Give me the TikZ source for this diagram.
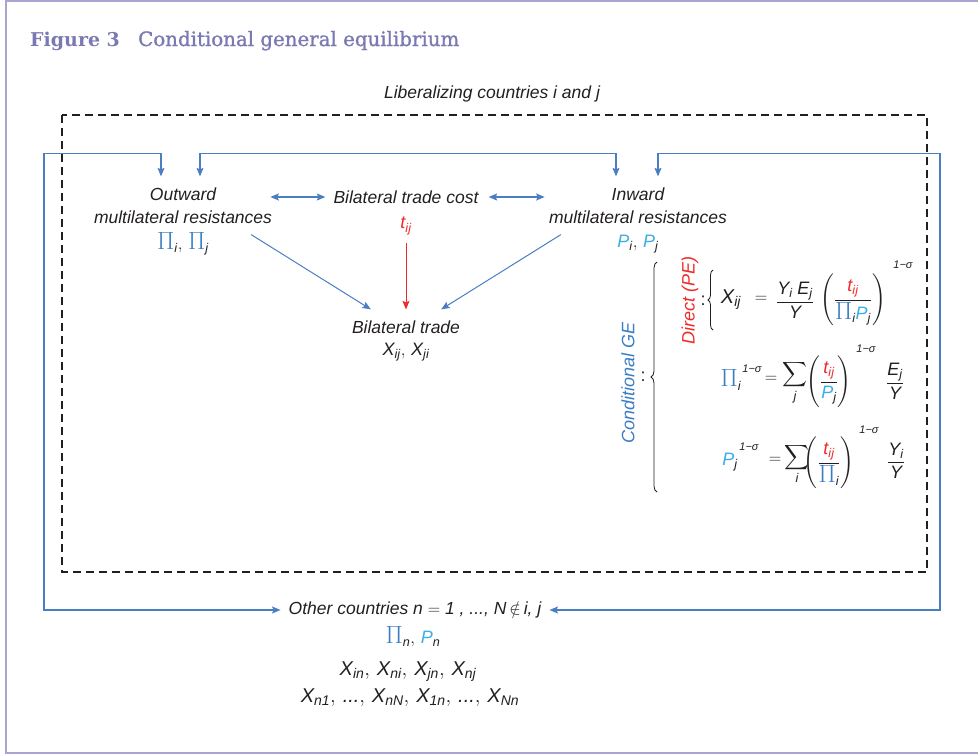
\documentclass[tikz,border=0pt]{standalone}
\usepackage{amsmath}
\usepackage{fontspec}
\setmainfont{Liberation Sans}
\newfontfamily\titlefont{DejaVu Serif}
\newfontfamily\titlefontm[FakeBold=1.2]{DejaVu Serif}
\usetikzlibrary{arrows.meta,calc,decorations.pathreplacing}
\definecolor{ink}{HTML}{231F20}
\definecolor{wireblue}{HTML}{4A7EC2}
\definecolor{piblue}{HTML}{3B7DC4}
\definecolor{pblue}{HTML}{3AAEE6}
\definecolor{tred}{HTML}{EE2A2A}
\definecolor{framec}{HTML}{A8A6D0}
\definecolor{titlec}{HTML}{7B79B2}
\newcommand{\mi}[1]{\text{\normalfont\itshape #1}}
\newcommand{\PI}{\textcolor{piblue}{\text{\fontsize{23}{23}\selectfont$\Pi$}}}
\newcommand{\PP}{\textcolor{pblue}{\mi{P}}}
\newcommand{\TT}{\textcolor{tred}{\mi{t}_{\mi{ij}}}}
\begin{document}
\begin{tikzpicture}[x=1pt,y=-1pt,
  lbl/.style={inner sep=0pt, font=\fontsize{17.5}{21}\selectfont\itshape, text=ink},
  eqn/.style={inner sep=0pt, font=\fontsize{18}{22}\selectfont, text=ink},
  big/.style={inner sep=0pt, font=\fontsize{20}{24}\selectfont, text=ink},
  expo/.style={inner sep=0pt, font=\fontsize{11}{13}\selectfont\itshape, text=ink},
  wire/.style={draw=wireblue, line width=1.1pt, {Stealth[length=8.5pt,width=7pt,inset=1.5pt]}-{Stealth[length=8.5pt,width=7pt,inset=1.5pt]}},
  bluearrow/.style={draw=wireblue, line width=1pt, -{Stealth[length=8.5pt,width=7pt,inset=1.5pt]}},
  redarrow/.style={draw=tred, line width=1pt, -{Stealth[length=8.5pt,width=7pt,inset=1.5pt]}},
  bracedec/.style={draw=ink, line width=0.8pt, decorate, decoration={brace, amplitude=6pt}}
]
\useasboundingbox (0,0) rectangle (978,755);
% outer frame
\draw[framec, line width=2pt] (978,1) -- (6,1) -- (6,753) -- (978,753);
% title
\node[anchor=base west, inner sep=0pt, text=titlec, font=\titlefont\fontsize{19}{23}\selectfont\bfseries] (fig) at (30,46) {Figure 3};
\node[anchor=base west, inner sep=0pt, text=titlec, font=\titlefontm\fontsize{19.8}{24}\selectfont] (ttl) at (138,46) {Conditional general equilibrium};
% dashed box
\draw[ink, line width=1.1pt, dash pattern=on 8pt off 5pt] (62,115) rectangle (927,572);
\node[lbl] (lib) at (492,94) {Liberalizing countries \textit{i} and \textit{j}};
% outward
\node[lbl] (outA) at (183,194) {Outward};
\node[lbl] (outB) at (183,217) {multilateral resistances};
\node[eqn] (outC) at (183,244) {$\PI_{\mi{i}},\, \PI_{\mi{j}}$};
% cost
\node[lbl] (cost) at (406,197) {Bilateral trade cost};
\node[eqn] (tij) at (406,226) {$\TT$};
% inward
\node[lbl] (inA) at (638,194) {Inward};
\node[lbl] (inB) at (638,217) {multilateral resistances};
\node[eqn] (inC) at (638,244) {$\PP_{\mi{i}},\, \PP_{\mi{j}}$};
% trade
\node[lbl] (trade) at (406,327) {Bilateral trade};
\node[eqn] (xx) at (406,352) {$\mi{X}_{\mi{ij}},\, \mi{X}_{\mi{ji}}$};
% other countries
\node[lbl] (oc) at (415,610) {Other countries \textit{n} $=$ \textit{1} , ..., \textit{N}\,$\notin$\,\textit{i}, \textit{j}};
\node[eqn] (ocp) at (413,637) {$\PI_{\mi{n}},\, \PP_{\mi{n}}$};
\node[big] (ocx1) at (408,672) {$\mi{X}_{\mi{in}},\, \mi{X}_{\mi{ni}},\, \mi{X}_{\mi{jn}},\, \mi{X}_{\mi{nj}}$};
\node[big] (ocx2) at (410,698) {$\mi{X}_{\mi{n1}},\, \mi{...},\, \mi{X}_{\mi{nN}},\, \mi{X}_{\mi{1n}},\, \mi{...},\, \mi{X}_{\mi{Nn}}$};
% connectors between cost and resistances
\draw[wire] ($(cost.west)+(-63,0)$) -- ($(cost.west)+(-8,0)$);
\draw[wire] ($(cost.east)+(10,0)$) -- ($(cost.east)+(66,0)$);
\draw[redarrow] ($(tij.south)+(0,8)$) -- ($(trade.north)+(0,-11)$);
\draw[bluearrow] ($(outB.south east)+(-21,11)$) -- ($(trade.north west)+(19,-11)$);
\draw[bluearrow] ($(inB.south west)+(12,11)$) -- ($(trade.north east)+(-19,-11)$);
% wires
\coordinate (t1) at ($(outA.north)+(-22,-11)$);
\coordinate (t2) at ($(outA.north)+(17,-11)$);
\coordinate (t3) at ($(inA.north)+(-22,-11)$);
\coordinate (t4) at ($(inA.north)+(20,-11)$);
\coordinate (o1) at ($(oc.west)+(-8,0)$);
\coordinate (o2) at ($(oc.east)+(8,0)$);
\draw[wire] (t1) -- ++(0,-23) -| (44,610) -- (o1);
\draw[wire] (t2) -- ++(0,-23) -| (t3);
\draw[wire] (t4) -- ++(0,-23) -| (940,610) -- (o2);
% Conditional GE
\node[lbl, text=piblue, rotate=90, font=\fontsize{18}{21}\selectfont\itshape] (cge) at (628,383) {Conditional GE};
\node[eqn] (col1) at (643,377) {:};
\draw[bracedec] (657,492) -- (657,262);
\node[lbl, text=tred, rotate=90, font=\fontsize{18}{21}\selectfont\itshape] (dpe) at (690,300) {Direct (PE)};
\node[eqn] (col2) at (703,301) {:};
\draw[bracedec, decoration={brace, amplitude=5pt}] (713,330) -- (713,270);
% equation 1
\node[big] (x1) at (731,300) {$\mi{X}_{\mi{ij}}$};
\node[eqn] (eq1) at (761,299) {$=$};
\node[eqn] (f1) at (795,300) {$\dfrac{\mi{Y}_{\mi{i}}\;\mi{E}_{\mi{j}}}{\mi{Y}}$};
\node[eqn] (p1) at (853,300) {$\Biggl(\dfrac{\TT}{\PI_{\mi{i}}\PP_{\mi{j}}}\Biggr)$};
\node[expo] (e1) at (903,265) {1−σ};
% equation 2
\node[eqn] (pi2) at (731,380) {$\PI_{\mi{i}}$};
\node[expo] (e2a) at (752,369) {1−σ};
\node[eqn] (eq2) at (771,379) {$=$};
\node[eqn] (s2) at (795,383) {$\displaystyle\sum_{\mi{j}}$};
\node[eqn] (p2) at (829,382) {$\Biggl(\dfrac{\TT}{\PP_{\mi{j}}}\Biggr)$};
\node[expo] (e2b) at (866,349) {1−σ};
\node[eqn] (f2) at (895,381) {$\dfrac{\mi{E}_{\mi{j}}}{\mi{Y}}$};
% equation 3
\node[eqn] (pj3) at (730,462) {$\PP_{\mi{j}}$};
\node[expo] (e3a) at (749,447) {1−σ};
\node[eqn] (eq3) at (775,460) {$=$};
\node[eqn] (s3) at (797,464) {$\displaystyle\sum_{\mi{i}}$};
\node[eqn] (p3) at (829,463) {$\Biggl(\dfrac{\TT}{\PI_{\mi{i}}}\Biggr)$};
\node[expo] (e3b) at (869,430) {1−σ};
\node[eqn] (f3) at (896,461) {$\dfrac{\mi{Y}_{\mi{i}}}{\mi{Y}}$};
\end{tikzpicture}
\end{document}
